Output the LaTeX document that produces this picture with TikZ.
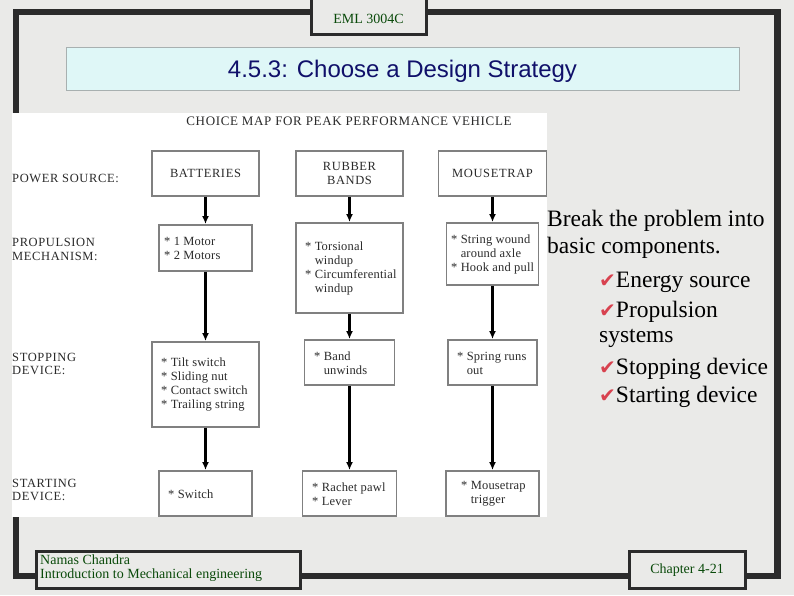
\documentclass[tikz,border=0pt]{standalone}
\usepackage{fontspec}
\setmainfont{Liberation Serif}
\newfontfamily\arialf{Liberation Sans}
\newfontfamily\dejavu{DejaVu Sans}
\newfontfamily\chartf[LetterSpace=5]{Liberation Serif}
\newfontfamily\boxf[LetterSpace=1.5]{Liberation Serif}
\usetikzlibrary{arrows.meta}
\definecolor{framec}{HTML}{2B2B2B}
\definecolor{bgc}{HTML}{EAEAE8}
\definecolor{titlefill}{HTML}{DFF7F7}
\definecolor{titleborder}{HTML}{A8B0B0}
\definecolor{navy}{HTML}{10106A}
\definecolor{dkgreen}{HTML}{0A4A0A}
\definecolor{boxgray}{HTML}{808080}
\definecolor{charttext}{HTML}{2A2A2A}
\definecolor{checkred}{HTML}{D8424F}
\tikzset{
  hdrbox/.style={draw=framec, line width=3pt, fill=bgc, inner sep=0pt},
  cbox/.style={draw=boxgray, line width=1.9pt, fill=white, inner sep=0pt, text=charttext,
     font=\chartf\fontsize{12.5}{14}\selectfont, align=center},
  ctext/.style={inner sep=0pt, anchor=west, align=left, text=charttext,
     font=\boxf\fontsize{12.5}{14}\selectfont},
  rowlab/.style={inner sep=0pt, anchor=west, align=left, text=charttext,
     font=\chartf\fontsize{12.5}{13.5}\selectfont},
  flow/.style={line width=2.3pt, black, -{Latex[length=8pt,width=7pt]}},
  rtext/.style={inner sep=0pt, anchor=base west, font=\fontsize{23.5}{26}\selectfont},
  foottext/.style={inner sep=0pt, text=dkgreen, font=\fontsize{14}{14}\selectfont},
}
\newcommand{\chk}{{\color{checkred}\dejavu\fontsize{20}{20}\selectfont ✔}}
\begin{document}
\begin{tikzpicture}[x=1pt,y=-1pt]
\useasboundingbox (0,0) rectangle (794,595);
\fill[bgc] (0,0) rectangle (794,595);
% outer frame
\draw[framec, line width=6.5pt] (16,12) rectangle (777.5,576);
% header box
\node[hdrbox, minimum width=115pt, minimum height=42pt] (eml) at (368.5,13) {};
\node[foottext] (emlT) at (368.5,18.5) {EML 3004C};
% title
\node[draw=titleborder, line width=0.8pt, fill=titlefill, minimum width=673pt, minimum height=43pt, inner sep=0pt] (title) at (402.5,68.5) {};
\node[inner sep=0pt, anchor=base, text=navy, font=\arialf\fontsize{24}{24}\selectfont] (titleT) at (402.5,77) {4.5.3: Choose a Design Strategy};
% chart background
\fill[white] (12,113) rectangle (547,517);
\node[inner sep=0pt, text=charttext, font=\chartf\fontsize{13}{13}\selectfont] (ctitle) at (349,121) {CHOICE MAP FOR PEAK PERFORMANCE VEHICLE};
% row labels
\node[rowlab] (l1) at (12,178) {POWER SOURCE:};
\node[rowlab] (l2) at (12,249.5) {PROPULSION\\MECHANISM:};
\node[rowlab] (l3) at (12,364) {STOPPING\\DEVICE:};
\node[rowlab] (l4) at (12,490) {STARTING\\DEVICE:};
% column 1
\node[cbox, minimum width=107pt, minimum height=45pt] (bat) at (205.5,173.5) {BATTERIES};
\node[cbox, minimum width=93pt, minimum height=46pt] (mot) at (205.5,248) {};
\node[cbox, minimum width=107pt, minimum height=85pt] (stp) at (205.5,384.5) {};
\node[cbox, minimum width=93pt, minimum height=45pt] (sw) at (205.5,493.5) {};
\node[ctext] (motT) at (164,248) {* 1 Motor\\* 2 Motors};
\node[ctext] (stpT) at (161,384.5) {* Tilt switch\\* Sliding nut\\* Contact switch\\* Trailing string};
\node[ctext] (swT) at (168,494) {* Switch};
% column 2
\node[cbox, minimum width=107pt, minimum height=45pt] (rub) at (349.5,173.5) {RUBBER\\BANDS};
\node[cbox, minimum width=107pt, minimum height=90pt] (tor) at (349.5,268) {};
\node[cbox, minimum width=90pt, minimum height=45pt] (band) at (349.5,362.5) {};
\node[cbox, minimum width=94pt, minimum height=45pt] (rach) at (349.5,493.5) {};
\node[ctext] (torT) at (305,268) {* Torsional\\\hphantom{* }windup\\* Circumferential\\\hphantom{* }windup};
\node[ctext] (bandT) at (314,363) {* Band\\\hphantom{* }unwinds};
\node[ctext] (rachT) at (312,494) {* Rachet pawl\\* Lever};
% column 3
\node[cbox, minimum width=108pt, minimum height=45pt] (mou) at (492.5,173.5) {MOUSETRAP};
\node[cbox, minimum width=92pt, minimum height=62pt] (str) at (492.5,254) {};
\node[cbox, minimum width=89pt, minimum height=45pt] (spr) at (492.5,362.5) {};
\node[cbox, minimum width=93pt, minimum height=45pt] (trig) at (492.5,493.5) {};
\node[ctext] (strT) at (451,254) {* String wound\\\hphantom{* }around axle\\* Hook and pull};
\node[ctext] (sprT) at (457,363) {* Spring runs\\\hphantom{* }out};
\node[ctext] (trigT) at (461,494) {* Mousetrap\\\hphantom{* }trigger};
% arrows
\draw[flow] (bat) -- (mot);
\draw[flow] (mot) -- (stp);
\draw[flow] (stp) -- (sw);
\draw[flow] (rub) -- (tor);
\draw[flow] (tor) -- (band);
\draw[flow] (band) -- (rach);
\draw[flow] (mou) -- (str);
\draw[flow] (str) -- (spr);
\draw[flow] (spr) -- (trig);
% right text
\node[rtext] (r1) at (547,226) {Break the problem into};
\node[rtext] (r2) at (547,253) {basic components.};
\node[rtext] (r3) at (599,287) {\chk Energy source};
\node[rtext] (r4) at (599,317) {\chk Propulsion};
\node[rtext] (r5) at (599,342) {systems};
\node[rtext] (r6) at (599,374) {\chk Stopping device};
\node[rtext] (r7) at (599,402) {\chk Starting device};
% footer
\node[hdrbox, minimum width=264pt, minimum height=37pt] (fl) at (168,569.5) {};
\node[foottext, anchor=west, align=left] (flT) at (40,568.5) {Namas Chandra\\Introduction to Mechanical engineering};
\node[hdrbox, minimum width=116pt, minimum height=37pt] (fr) at (687,569.5) {};
\node[foottext] (frT) at (687,570) {Chapter 4-21};
\end{tikzpicture}
\end{document}
